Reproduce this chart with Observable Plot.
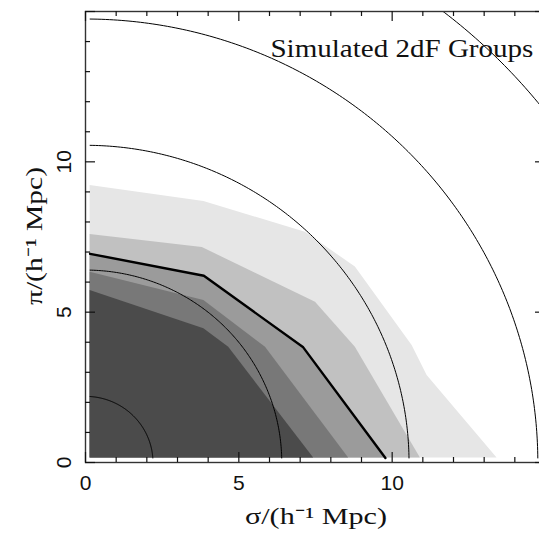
<!DOCTYPE html>
<html><head><meta charset="utf-8">
<script src="https://cdn.jsdelivr.net/npm/d3@7"></script>
<script src="https://cdn.jsdelivr.net/npm/@observablehq/plot@0.6"></script>
<style>
html,body{margin:0;padding:0;background:#fff;overflow:hidden}
#wrap{width:539px;height:540px;overflow:hidden;position:relative}
#wrap svg{max-width:none !important}
</style></head><body><div id="wrap"></div>
<script>
// ---- data ----
const xMajorTicks = [0, 5, 10, 15];
const xMinorTicks = [1, 2, 3, 4, 6, 7, 8, 9, 11, 12, 13, 14];
const yMajorTicks = [0, 5, 10, 15];
const yMinorTicks = [1, 2, 3, 4, 6, 7, 8, 9, 11, 12, 13, 14];
const xTickLabels = [0, 5, 10];
const yTickLabels = [0, 5, 10];
const arcRadii = [2.2, 6.4, 10.55, 14.75, 19.0];
const gridStart = 0.15;
const levelFills = ["#e6e6e6", "#c1c1c1", "#9b9b9b", "#787878", "#4b4b4b"];
const contourLevel1 = [[0.15, 9.21], [3.86, 8.68], [7.17, 7.66], [8.8, 6.5], [10.65, 3.89], [11.14, 2.89], [13.42, 0.15]];
const contourLevel2 = [[0.15, 7.58], [3.81, 7.15], [7.5, 5.33], [8.8, 3.83], [10.92, 0.15]];
const contourLevel3 = [[0.15, 6.94], [3.86, 6.21], [7.1, 3.83], [9.78, 0.15]];
const contourLevel4 = [[0.15, 6.33], [3.86, 5.39], [5.87, 3.83], [8.58, 0.15]];
const contourLevel5 = [[0.15, 5.72], [3.86, 4.45], [4.67, 3.83], [7.44, 0.15]];
const contourLevels = [contourLevel1, contourLevel2, contourLevel3, contourLevel4, contourLevel5];
const highlightedLevel = contourLevel3;
const panelLabel = [{x: 6.03, y: 13.48, text: "Simulated 2dF Groups"}];
const xTitle = "σ/(h⁻¹ Mpc)";
const yTitle = "π/(h⁻¹ Mpc)";

// circle arcs of constant separation
const arcs = [];
for (const r of arcRadii) {
  const t0 = Math.asin(Math.min(1, gridStart / r)), t1 = Math.acos(Math.min(1, gridStart / r));
  const n = 180;
  for (let i = 0; i <= n; i++) {
    const t = t0 + (t1 - t0) * i / n;
    arcs.push({r, x: r * Math.cos(t), y: r * Math.sin(t)});
  }
}

// layout
const W = 546, H = 540, mL = 85, mR = 1, mT = 11, mB = 78;
const xMax = 15, yMax = 15;
const pxX = (W - mL - mR) / xMax, pxY = (H - mT - mB) / yMax;
const minorLen = 5, majorLen = 10;

// inward tick segments (pixel lengths converted to data units)
const xTickSegs = [];
for (const t of xMinorTicks) { xTickSegs.push({x: t, y1: 0, y2: minorLen / pxY}); xTickSegs.push({x: t, y1: yMax, y2: yMax - minorLen / pxY}); }
for (const t of xMajorTicks) { xTickSegs.push({x: t, y1: 0, y2: majorLen / pxY}); xTickSegs.push({x: t, y1: yMax, y2: yMax - majorLen / pxY}); }
const yTickSegs = [];
for (const t of yMinorTicks) { yTickSegs.push({y: t, x1: 0, x2: minorLen / pxX}); yTickSegs.push({y: t, x1: xMax, x2: xMax - minorLen / pxX}); }
for (const t of yMajorTicks) { yTickSegs.push({y: t, x1: 0, x2: majorLen / pxX}); yTickSegs.push({y: t, x1: xMax, x2: xMax - majorLen / pxX}); }

const tickFont = {fontSize: 21, fontFamily: "Liberation Sans, Arial, sans-serif"};

const plot = Plot.plot({
  width: W, height: H,
  marginLeft: mL, marginRight: mR, marginTop: mT, marginBottom: mB,
  x: {domain: [0, xMax], axis: null, label: null},
  y: {domain: [0, yMax], axis: null, label: null},
  style: {background: "white", color: "#000", maxWidth: "none"},
  marks: [
    ...contourLevels.map((lvl, i) => Plot.areaY(lvl, {x: d => d[0], y1: gridStart, y2: d => d[1], fill: levelFills[i]})),
    Plot.line(arcs, {x: "x", y: "y", z: "r", stroke: "#000", strokeWidth: 1, clip: true}),
    Plot.line(highlightedLevel, {x: d => d[0], y: d => d[1], stroke: "#000", strokeWidth: 2.4}),
    Plot.frame({stroke: "#333", strokeWidth: 1.4}),
    Plot.ruleX(xTickSegs, {x: "x", y1: "y1", y2: "y2", stroke: "#111", strokeWidth: 1.2}),
    Plot.ruleY(yTickSegs, {y: "y", x1: "x1", x2: "x2", stroke: "#111", strokeWidth: 1.2}),
    Plot.axisX({anchor: "bottom", ticks: xTickLabels, tickSize: 0, tickPadding: 13, tickFormat: d => String(d), ...tickFont, fill: "#111"}),
    Plot.text(yTickLabels, {y: d => d, frameAnchor: "left", text: d => String(d), rotate: -90, dx: -21, textAnchor: "middle", lineAnchor: "middle", ...tickFont, fill: "#111"}),
    Plot.text(panelLabel, {x: "x", y: "y", text: "text", textAnchor: "start", lineAnchor: "bottom", fontSize: 25, fontFamily: "Liberation Serif, serif", fill: "#111"})
  ]
});
plot.style.maxWidth = "none";

const svg = d3.select(plot);
svg.selectAll("text").filter(function () { return this.textContent === panelLabel[0].text; })
  .attr("textLength", 263).attr("lengthAdjust", "spacingAndGlyphs");
svg.append("text")
  .attr("x", 316).attr("y", 524)
  .attr("text-anchor", "middle")
  .attr("font-family", "Liberation Serif, serif").attr("font-size", 23).attr("fill", "#111")
  .attr("textLength", 142).attr("lengthAdjust", "spacingAndGlyphs")
  .text(xTitle);
svg.append("text")
  .attr("transform", "translate(42,236) rotate(-90)")
  .attr("text-anchor", "middle")
  .attr("font-family", "Liberation Serif, serif").attr("font-size", 23).attr("fill", "#111")
  .attr("textLength", 138).attr("lengthAdjust", "spacingAndGlyphs")
  .text(yTitle);

document.getElementById("wrap").appendChild(plot);
</script></body></html>
